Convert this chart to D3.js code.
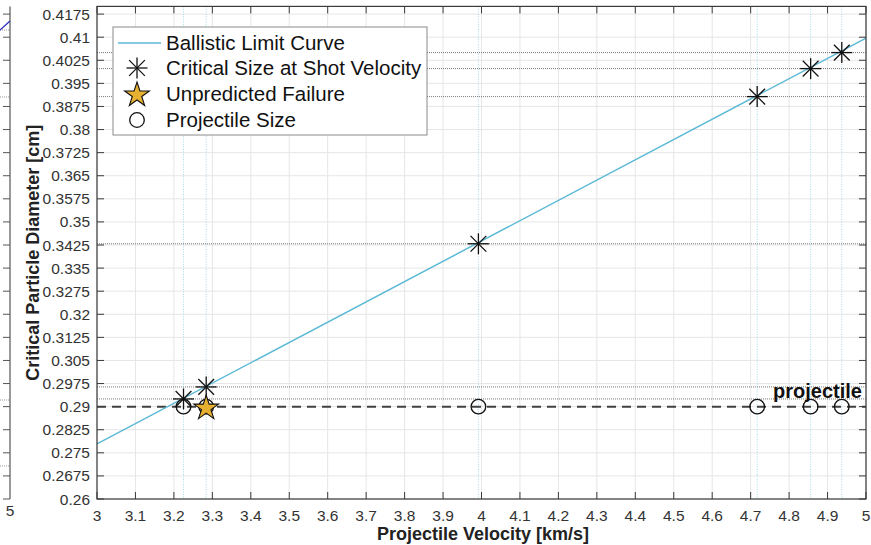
<!DOCTYPE html>
<html>
<head>
<meta charset="utf-8">
<script src="https://cdn.jsdelivr.net/npm/d3@7"></script>
<style>
  html, body { margin: 0; padding: 0; background: #fff; }
  svg { display: block; font-family: "Liberation Sans", Arial, sans-serif; }
</style>
</head>
<body>
<svg id="chart" width="871" height="545"></svg>
<script>
// Axis ticks
const xTickValues = [3, 3.1, 3.2, 3.3, 3.4, 3.5, 3.6, 3.7, 3.8, 3.9, 4, 4.1, 4.2, 4.3, 4.4, 4.5, 4.6, 4.7, 4.8, 4.9, 5];
const yTickValues = [0.26, 0.2675, 0.275, 0.2825, 0.29, 0.2975, 0.305, 0.3125, 0.32, 0.3275, 0.335, 0.3425,
                     0.35, 0.3575, 0.365, 0.3725, 0.38, 0.3875, 0.395, 0.4025, 0.41, 0.4175];

// Ballistic limit curve (km/s -> cm)
const ballisticVelocity = [3, 5];
const ballisticDiameter = [0.2779, 0.4097];

// Test shots: velocity and critical size at that velocity
const shotVelocity = [3.225, 3.284, 3.992, 4.717, 4.856, 4.937];
const criticalSize = [0.2925, 0.2964, 0.3429, 0.3907, 0.3998, 0.4050];

// Projectile diameter used in every shot
const projectileSize = [0.29, 0.29, 0.29, 0.29, 0.29, 0.29];

// Shots that failed although predicted to survive
const failureVelocity = [3.284];
const failureSize = [0.29];

const svg = d3.select("#chart");
const plotLeft = 97, plotRight = 866, plotTop = 6.4, plotBottom = 499;

const x = d3.scaleLinear().domain([3, 5]).range([plotLeft, plotRight]);
const y = d3.scaleLinear().domain([0.26, 0.42]).range([plotBottom, plotTop]);

// ---- neighbouring panel edge on the far left ----
const ln = svg.append("g");
ln.append("line").attr("x1", 10).attr("x2", 10).attr("y1", plotTop).attr("y2", plotBottom)
  .attr("stroke", "#555").attr("stroke-width", 1.2);
ln.selectAll("line.t").data(yTickValues).join("line").attr("class", "t")
  .attr("x1", 3).attr("x2", 10).attr("y1", d => y(d)).attr("y2", d => y(d))
  .attr("stroke", "#555").attr("stroke-width", 1);
[30, 97, 400, 466].forEach(v => {
  ln.append("line").attr("x1", 0).attr("x2", 9).attr("y1", v).attr("y2", v)
    .attr("stroke", "#999").attr("stroke-dasharray", "1,1");
});
ln.append("line").attr("x1", 0).attr("y1", 30).attr("x2", 10).attr("y2", 21)
  .attr("stroke", "#2b2bb8").attr("stroke-width", 1.3);
ln.append("text").attr("x", 10).attr("y", 516).attr("text-anchor", "middle")
  .attr("font-size", 15.5).attr("fill", "#333").text("5");

// ---- grid ----
const grid = svg.append("g");
grid.selectAll("line.gx").data(xTickValues).join("line").attr("class", "gx")
  .attr("x1", d => x(d)).attr("x2", d => x(d)).attr("y1", plotTop).attr("y2", plotBottom)
  .attr("stroke", "#e6e6e6").attr("stroke-width", 1);
grid.selectAll("line.gy").data(yTickValues).join("line").attr("class", "gy")
  .attr("x1", plotLeft).attr("x2", plotRight).attr("y1", d => y(d)).attr("y2", d => y(d))
  .attr("stroke", "#e6e6e6").attr("stroke-width", 1);

// ---- reference lines for each shot ----
const refs = svg.append("g");
refs.selectAll("line.vv").data(shotVelocity).join("line").attr("class", "vv")
  .attr("x1", d => x(d)).attr("x2", d => x(d)).attr("y1", plotTop).attr("y2", plotBottom)
  .attr("stroke", "#a8d8ea").attr("stroke-width", 1).attr("stroke-dasharray", "1,1.5");
refs.selectAll("line.hh").data(criticalSize).join("line").attr("class", "hh")
  .attr("x1", plotLeft).attr("x2", plotRight).attr("y1", d => y(d)).attr("y2", d => y(d))
  .attr("stroke", "#6a6a6a").attr("stroke-width", 0.9).attr("stroke-dasharray", "1,1");

// projectile size line
svg.append("line")
  .attr("x1", plotLeft).attr("x2", plotRight).attr("y1", y(projectileSize[0])).attr("y2", y(projectileSize[0]))
  .attr("stroke", "#404040").attr("stroke-width", 2).attr("stroke-dasharray", "9,6");

// ---- ballistic limit curve ----
const lineGen = d3.line().x(d => x(d[0])).y(d => y(d[1]));
svg.append("path")
  .datum(ballisticVelocity.map((v, i) => [v, ballisticDiameter[i]]))
  .attr("d", lineGen).attr("fill", "none").attr("stroke", "#5cb9d6").attr("stroke-width", 1.5);

// ---- markers ----
function asterisk(g, cx, cy, r) {
  const rd = r * 0.75;
  const segs = [[-r, 0, r, 0], [0, -r, 0, r], [-rd, -rd, rd, rd], [-rd, rd, rd, -rd]];
  segs.forEach(s => g.append("line")
    .attr("x1", cx + s[0]).attr("y1", cy + s[1]).attr("x2", cx + s[2]).attr("y2", cy + s[3])
    .attr("stroke", "#111").attr("stroke-width", 1.3));
}
const starPath = d3.symbol().type(d3.symbolStar).size(190);

const marks = svg.append("g");
projectileSize.forEach((d, i) => {
  marks.append("circle").attr("cx", x(shotVelocity[i])).attr("cy", y(d)).attr("r", 7.3)
    .attr("fill", "none").attr("stroke", "#111").attr("stroke-width", 1.3);
});
failureVelocity.forEach((v, i) => {
  marks.append("path").attr("d", starPath())
    .attr("transform", `translate(${x(v)},${y(failureSize[i]) + 1.5})`)
    .attr("fill", "#e6b030").attr("stroke", "#111").attr("stroke-width", 1.1);
});
criticalSize.forEach((d, i) => asterisk(marks, x(shotVelocity[i]), y(d), 10.5));

// ---- frame and ticks ----
const ax = svg.append("g");
ax.append("rect").attr("x", plotLeft).attr("y", plotTop).attr("width", plotRight - plotLeft).attr("height", plotBottom - plotTop)
  .attr("fill", "none").attr("stroke", "#3a3a3a").attr("stroke-width", 1.2);
ax.selectAll("line.xtb").data(xTickValues).join("line").attr("class", "xtb")
  .attr("x1", d => x(d)).attr("x2", d => x(d)).attr("y1", plotBottom).attr("y2", plotBottom - 7)
  .attr("stroke", "#3a3a3a");
ax.selectAll("line.xtt").data(xTickValues).join("line").attr("class", "xtt")
  .attr("x1", d => x(d)).attr("x2", d => x(d)).attr("y1", plotTop).attr("y2", plotTop + 7)
  .attr("stroke", "#3a3a3a");
ax.selectAll("line.ytl").data(yTickValues).join("line").attr("class", "ytl")
  .attr("x1", plotLeft).attr("x2", plotLeft + 7).attr("y1", d => y(d)).attr("y2", d => y(d))
  .attr("stroke", "#3a3a3a");
ax.selectAll("line.ytr").data(yTickValues).join("line").attr("class", "ytr")
  .attr("x1", plotRight).attr("x2", plotRight - 7).attr("y1", d => y(d)).attr("y2", d => y(d))
  .attr("stroke", "#3a3a3a");

ax.selectAll("text.xl").data(xTickValues).join("text").attr("class", "xl")
  .attr("x", d => x(d)).attr("y", 521).attr("text-anchor", "middle")
  .attr("font-size", 15.5).attr("fill", "#333").text(d => d3.format("~g")(d));
ax.selectAll("text.yl").data(yTickValues).join("text").attr("class", "yl")
  .attr("x", 90).attr("y", d => y(d) + 5.5).attr("text-anchor", "end")
  .attr("font-size", 15.5).attr("fill", "#333").text(d => d3.format("~g")(d));

// axis titles
svg.append("text").attr("x", 483).attr("y", 540).attr("text-anchor", "middle")
  .attr("font-size", 18).attr("font-weight", "bold").attr("fill", "#222")
  .text("Projectile Velocity [km/s]");
svg.append("text").attr("transform", `translate(39,${(plotTop + plotBottom) / 2}) rotate(-90)`)
  .attr("text-anchor", "middle").attr("font-size", 18).attr("font-weight", "bold").attr("fill", "#222")
  .text("Critical Particle Diameter [cm]");

// annotation on the projectile line
svg.append("text").attr("x", 862).attr("y", 398).attr("text-anchor", "end")
  .attr("font-size", 20).attr("font-weight", "bold").attr("fill", "#111").text("projectile");

// ---- legend ----
const lg = svg.append("g");
lg.append("rect").attr("x", 113).attr("y", 27).attr("width", 314).attr("height", 108)
  .attr("fill", "#fff").attr("stroke", "#8a8a8a").attr("stroke-width", 1);
const rowY = [43, 68, 94, 120];
lg.append("line").attr("x1", 118).attr("x2", 161).attr("y1", rowY[0]).attr("y2", rowY[0])
  .attr("stroke", "#5cb9d6").attr("stroke-width", 1.5);
asterisk(lg, 137, rowY[1], 10.5);
lg.append("path").attr("d", starPath()).attr("transform", `translate(137,${rowY[2] + 1})`)
  .attr("fill", "#e6b030").attr("stroke", "#111").attr("stroke-width", 1.1);
lg.append("circle").attr("cx", 137).attr("cy", rowY[3]).attr("r", 7.3)
  .attr("fill", "none").attr("stroke", "#111").attr("stroke-width", 1.3);
const labels = ["Ballistic Limit Curve", "Critical Size at Shot Velocity", "Unpredicted Failure", "Projectile Size"];
lg.selectAll("text").data(labels).join("text")
  .attr("x", 166).attr("y", (d, i) => rowY[i] + 7).attr("font-size", 20.5).attr("fill", "#111").text(d => d);
</script>
</body>
</html>
